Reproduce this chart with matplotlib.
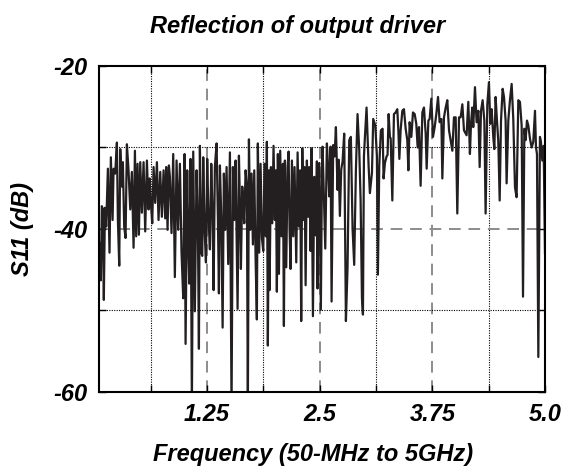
import numpy as np
import matplotlib.pyplot as plt

# frecuencia (GHz) y S11 (dB)
freq = [
    0.050, 0.061, 0.072, 0.083, 0.094, 0.105, 0.117, 0.131, 0.150, 0.168,
    0.183, 0.202, 0.213, 0.231, 0.250, 0.261, 0.276, 0.287, 0.305, 0.316,
    0.331, 0.346, 0.361, 0.379, 0.398, 0.416, 0.435, 0.450, 0.464, 0.479,
    0.494, 0.509, 0.527, 0.546, 0.564, 0.583, 0.601, 0.612, 0.627, 0.642,
    0.657, 0.675, 0.694, 0.712, 0.731, 0.749, 0.768, 0.786, 0.797, 0.812,
    0.827,
    0.838, 0.856, 0.875, 0.893, 0.912, 0.930, 0.949, 0.967, 0.986, 1.001,
    1.012, 1.030, 1.041, 1.053, 1.067, 1.082, 1.097, 1.115, 1.134, 1.149,
    1.160, 1.171, 1.186, 1.197, 1.208, 1.223, 1.238, 1.252, 1.267, 1.282,
    1.297, 1.312, 1.323, 1.337, 1.356, 1.371, 1.382, 1.393, 1.408, 1.423,
    1.437, 1.452, 1.467, 1.485, 1.504, 1.522, 1.537, 1.552, 1.567, 1.578,
    1.589, 1.604, 1.615, 1.626, 1.641,
    1.648, 1.663, 1.678, 1.692, 1.703, 1.715, 1.729, 1.744, 1.759, 1.774,
    1.789, 1.803, 1.814, 1.829, 1.844, 1.859, 1.874, 1.888, 1.903, 1.914,
    1.925, 1.937, 1.944, 1.959, 1.974, 1.988, 2.003, 2.014, 2.025, 2.036,
    2.048, 2.062, 2.077, 2.092, 2.103, 2.114, 2.129, 2.144, 2.155, 2.166,
    2.177, 2.192, 2.207, 2.221, 2.240, 2.255, 2.270, 2.284, 2.295, 2.307,
    2.321, 2.332, 2.344, 2.358, 2.373, 2.384, 2.399, 2.410, 2.425, 2.440,
    2.455,
    2.458, 2.469, 2.476, 2.488, 2.495, 2.506, 2.513, 2.525, 2.532, 2.547,
    2.562, 2.580, 2.595, 2.606, 2.621, 2.632, 2.650, 2.665, 2.680, 2.698,
    2.710, 2.724, 2.739, 2.754, 2.772, 2.791, 2.809, 2.828, 2.846, 2.865,
    2.883, 2.902, 2.920, 2.939, 2.954, 2.969, 2.980, 2.991, 3.002, 3.020,
    3.043, 3.057, 3.080, 3.094, 3.117, 3.135, 3.146, 3.161, 3.179, 3.198,
    3.209, 3.224, 3.242, 3.253, 3.265, 3.279,
    3.288, 3.306, 3.324, 3.343, 3.361, 3.373, 3.384, 3.398, 3.417, 3.435,
    3.454, 3.472, 3.484, 3.498, 3.517, 3.535, 3.554, 3.572, 3.587, 3.602,
    3.620, 3.639, 3.657, 3.676, 3.687, 3.706, 3.720, 3.739, 3.757, 3.776,
    3.794, 3.813, 3.831, 3.850, 3.861, 3.879, 3.898, 3.916, 3.935, 3.953,
    3.972, 3.990, 4.009, 4.027, 4.046, 4.064, 4.083, 4.101,
    4.130, 4.149, 4.167, 4.179, 4.193, 4.204, 4.223, 4.241, 4.260, 4.275,
    4.290, 4.308, 4.327, 4.341, 4.360, 4.378, 4.393, 4.408, 4.426, 4.438,
    4.452, 4.467, 4.482, 4.497, 4.512, 4.530, 4.545, 4.563, 4.574, 4.593,
    4.611, 4.630, 4.648, 4.667, 4.685, 4.704, 4.722, 4.741, 4.756, 4.771,
    4.785, 4.800, 4.815, 4.833, 4.852, 4.870, 4.889, 4.900, 4.911, 4.926,
    4.944, 4.955, 4.970, 4.985, 5.000,
]

s11 = [
    -42.9, -41.7, -46.3, -37.2, -37.6, -48.7, -37.4, -39.7, -32.6, -42.9,
    -31.2, -38.9, -32.6, -33.2, -29.4, -38.9, -44.5, -30.2, -34.8, -31.8,
    -39.7, -41.1, -29.6, -32.8, -37.6, -33.0, -42.3, -30.4, -40.9, -32.0,
    -40.7, -31.8, -38.0, -31.8, -40.3, -31.6, -37.6, -33.8, -36.8, -39.3,
    -32.4, -36.8, -31.8, -38.9, -33.0, -38.5, -32.8, -38.7, -32.4, -40.1,
    -32.2,
    -33.6, -40.5, -30.8, -45.9, -31.6, -40.1, -32.0, -42.9, -48.5, -30.8,
    -54.1, -32.8, -41.3, -46.7, -31.4, -62.0, -30.5, -50.1, -32.8, -40.1,
    -54.7, -29.8, -42.9, -43.3, -31.2, -40.1, -44.1, -31.4, -38.9, -42.5,
    -32.0, -38.5, -47.5, -32.4, -29.5, -38.9, -47.9, -32.2, -38.5, -52.1,
    -33.2, -40.1, -32.4, -44.3, -30.6, -62.0, -32.4, -38.9, -31.6, -40.5,
    -49.8, -31.0, -36.8, -44.9, -34.8,
    -36.4, -39.3, -32.8, -34.8, -62.0, -29.0, -40.1, -33.2, -41.9, -32.8,
    -43.7, -51.1, -29.5, -42.9, -32.0, -41.1, -42.7, -32.0, -40.9, -29.3,
    -54.3, -32.8, -47.5, -32.4, -39.3, -29.8, -38.9, -32.8, -47.7, -30.8,
    -45.5, -30.4, -40.9, -32.0, -51.9, -31.6, -44.7, -32.4, -30.5, -40.1,
    -44.9, -31.6, -40.9, -32.4, -44.1, -30.6, -39.7, -32.8, -51.3, -30.1,
    -38.9, -32.4, -46.9, -31.6, -38.5, -32.4, -42.7, -30.1, -50.7, -33.6,
    -36.0,
    -40.8, -31.7, -47.3, -32.3, -31.9, -43.2, -49.9, -33.1, -29.9, -36.4,
    -42.4, -29.5, -32.7, -36.0, -29.9, -48.9, -29.7, -31.1, -27.5, -35.2,
    -31.5, -38.4, -32.7, -31.7, -28.3, -51.3, -44.8, -29.1, -28.7, -40.0,
    -44.4, -32.7, -25.9, -30.3, -36.4, -48.5, -50.5, -31.1, -28.7, -25.1,
    -32.3, -35.6, -33.1, -26.5, -27.3, -31.1, -45.6, -32.3, -27.9, -27.7,
    -33.8, -31.9, -31.1, -30.9, -25.9, -28.7,
    -28.9, -36.5, -25.9, -25.7, -25.3, -27.9, -31.4, -27.9, -25.5, -25.3,
    -27.7, -29.1, -32.8, -26.9, -28.7, -25.7, -25.9, -27.1, -30.0, -27.5,
    -34.7, -25.7, -25.1, -28.3, -32.6, -26.7, -26.5, -24.0, -28.7, -27.5,
    -25.9, -23.8, -26.9, -26.5, -33.8, -26.3, -25.1, -24.2, -27.9, -29.1,
    -30.4, -26.3, -26.3, -38.1, -26.3, -26.3, -24.7, -27.9,
    -28.5, -24.4, -30.8, -27.1, -25.1, -27.5, -22.6, -26.9, -25.5, -32.4,
    -25.5, -24.2, -26.7, -38.1, -24.7, -22.0, -27.1, -25.3, -28.7, -30.2,
    -23.8, -26.7, -29.3, -36.5, -26.7, -22.8, -23.8, -26.7, -34.4, -26.7,
    -24.2, -22.2, -26.5, -34.9, -36.1, -24.2, -24.4, -27.3, -48.3, -27.7,
    -29.1, -26.7, -27.3, -28.9, -30.0, -29.3, -25.5, -30.0, -30.8, -55.7,
    -28.7, -29.3, -31.6, -29.8, -43.0,
]

x_ticks = [0.625, 1.25, 1.875, 2.5, 3.125, 3.75, 4.375, 5.0]
x_labels = ['', '1.25', '', '2.5', '', '3.75', '', '5.0']
y_ticks = [-60, -50, -40, -30, -20]
y_labels = ['-60', '', '-40', '', '-20']


def main():
    plt.rcParams['font.family'] = ['Liberation Sans', 'DejaVu Sans']
    plt.rcParams['font.weight'] = 'bold'
    plt.rcParams['font.style'] = 'italic'

    fig = plt.figure(figsize=(5.65, 4.72), dpi=100)
    ax = fig.add_axes([0.175, 0.1695, 0.7896, 0.6907])

    # rejilla: discontinua gris en los principales, punteada negra en el resto
    for xv in x_ticks[:-1]:
        if xv in (1.25, 2.5, 3.75):
            ax.axvline(xv, color='#8c8c8c', lw=1.4, dashes=(6, 4), zorder=1)
        else:
            ax.axvline(xv, color='black', lw=0.8, dashes=(1, 1.2), zorder=1)
    for yv in (-30, -50):
        ax.axhline(yv, color='black', lw=0.8, dashes=(1, 1.2), zorder=1)
    ax.axhline(-40, color='#8c8c8c', lw=1.4, dashes=(6, 4), zorder=1)

    ax.plot(freq, s11, color='#231f20', lw=1.6, zorder=2)

    ax.set_xlim(0.05, 5.0)
    ax.set_ylim(-60, -20)
    ax.set_xticks(x_ticks)
    ax.set_xticklabels(x_labels)
    ax.set_yticks(y_ticks)
    ax.set_yticklabels(y_labels)
    ax.tick_params(direction='in', top=True, right=True, length=5, width=1,
                   labelsize=17, pad=8)
    for sp in ax.spines.values():
        sp.set_linewidth(1.5)

    ax.set_xlabel('Frequency (50-MHz to 5GHz)', fontsize=17, fontweight='bold',
                  labelpad=14)
    ax.xaxis.set_label_coords(0.48, -0.155)
    ax.set_ylabel('S11 (dB)', fontsize=17, fontweight='bold', labelpad=14)
    ax.set_title('Reflection of output driver', fontsize=17, fontweight='bold',
                 x=0.445, pad=24)

    fig.savefig('out.png', dpi=100)


if __name__ == '__main__':
    main()
